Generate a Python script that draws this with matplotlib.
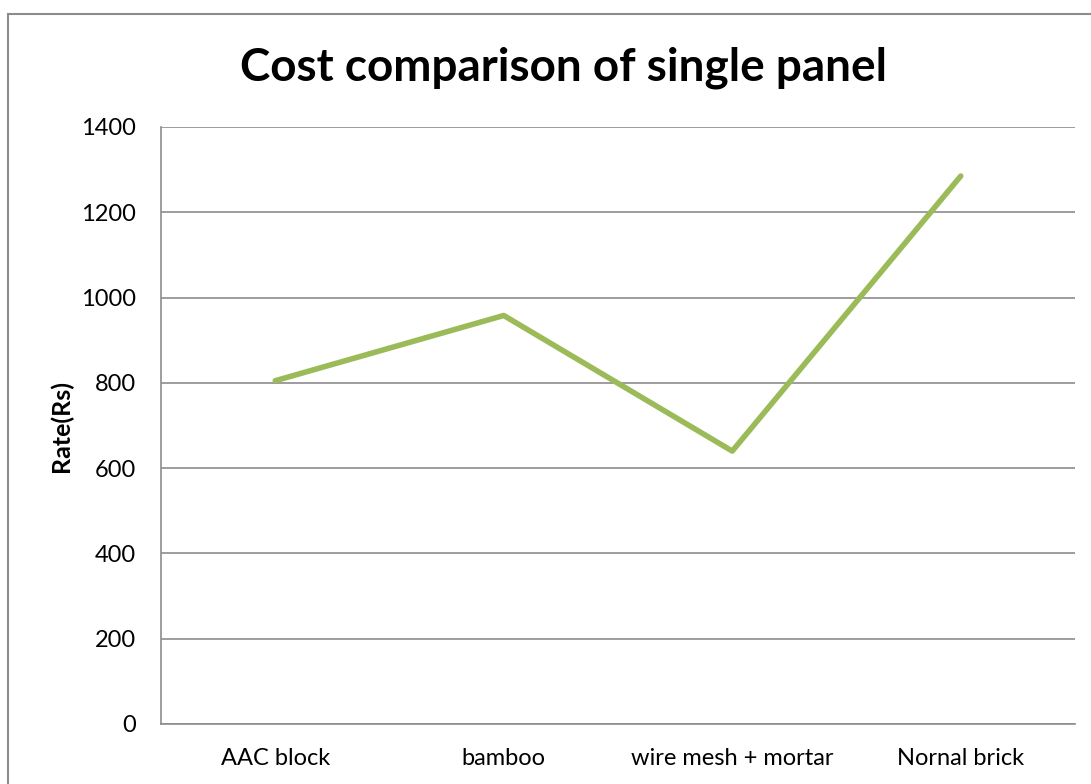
import matplotlib
matplotlib.use("Agg")
import matplotlib.pyplot as plt
from matplotlib.patches import Rectangle

categories = ["AAC block", "bamboo", "wire mesh + mortar", "Nornal brick"]
rates = [805, 958, 640, 1285]
yticks = [0, 200, 400, 600, 800, 1000, 1200, 1400]

W, H = 1091, 784
fig = plt.figure(figsize=(W / 100, H / 100), dpi=100)
plt.rcParams['font.family'] = ['Lato', 'DejaVu Sans']

# outer chart border
fig.patches.append(Rectangle((8 / W, -0.05), 1.1, (H - 14) / H + 0.05, transform=fig.transFigure,
                             fill=False, edgecolor='#8c8c8c', linewidth=1.5))

left, right, top, bottom = 161, 1075, 127, 724
ax = fig.add_axes([left / W, 1 - bottom / H, (right - left) / W, (bottom - top) / H])

x = range(len(categories))
ax.plot(x, rates, color='#9BBB59', linewidth=4, solid_capstyle='round', solid_joinstyle='round', zorder=3)

ax.set_xlim(-0.5, len(categories) - 0.5)
ax.set_ylim(0, 1400)
ax.set_yticks(yticks)
ax.set_xticks(list(x))
ax.set_xticklabels(categories)
ax.yaxis.grid(True, color='#8c8c8c', linewidth=1.2)
ax.set_axisbelow(True)
for s in ['top', 'right']:
    ax.spines[s].set_visible(False)
for s in ['left', 'bottom']:
    ax.spines[s].set_color('#8c8c8c')
    ax.spines[s].set_linewidth(1.2)
ax.tick_params(axis='both', length=0, labelsize=17, colors='black')
ax.tick_params(axis='y', pad=18)
ax.tick_params(axis='x', pad=17)

fig.text(61 / W, 1 - 426 / H, "Rate(Rs)", rotation=90, ha='center', va='center',
         fontsize=18, fontweight='bold')
fig.text(563 / W, 1 - 68 / H, "Cost comparison of single panel", ha='center', va='center',
         fontsize=33, fontweight='bold')

fig.savefig("out.png", dpi=100)
